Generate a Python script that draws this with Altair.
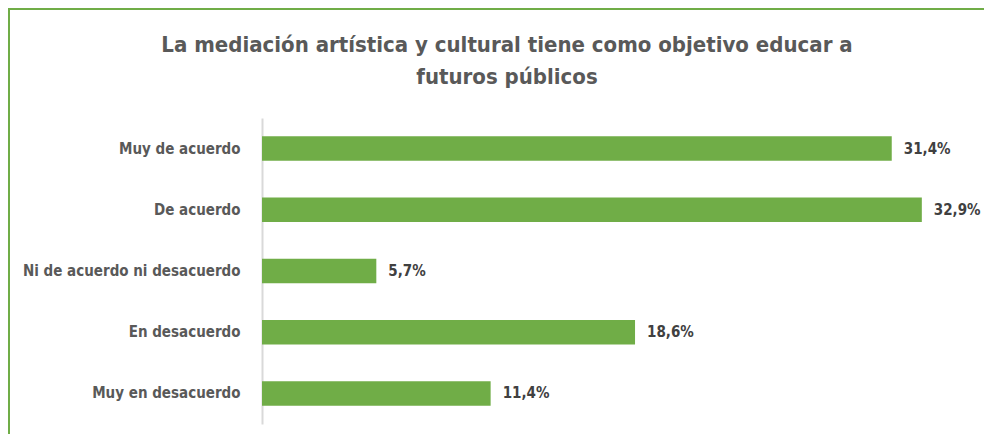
import altair as alt
import pandas as pd

categories = ["Muy de acuerdo", "De acuerdo", "Ni de acuerdo ni desacuerdo", "En desacuerdo", "Muy en desacuerdo"]
values = [31.4, 32.9, 5.7, 18.6, 11.4]
labels = [f"{v:.1f}".replace(".", ",") + "%" for v in values]
title_lines = ["La mediación artística y cultural tiene como objetivo educar a", "futuros públicos"]

df = pd.DataFrame({"cat": categories, "val": values, "lab": labels})
tdf = pd.DataFrame({"t": title_lines, "row": [0, 1]})

FONT = "Liberation Sans Narrow, DejaVu Sans Condensed, Arial Narrow, sans-serif"
W, H = 722, 306

y_enc = alt.Y("cat:N", sort=categories, title=None,
              scale=alt.Scale(paddingInner=0.6, paddingOuter=0.3),
              axis=alt.Axis(domain=True, domainColor="#D9D9D9", domainWidth=2,
                            ticks=False, labelPadding=22, labelFont=FONT,
                            labelFontSize=15, labelFontWeight="bold",
                            labelColor="#595959", labelLimit=300))
x_enc = alt.X("val:Q", title=None, scale=alt.Scale(domain=[0, 36]), axis=None)

bars = alt.Chart(df).mark_bar(color="#70AD47").encode(x=x_enc, y=y_enc)
text = alt.Chart(df).mark_text(align="left", dx=12, font=FONT, fontSize=15,
                               fontWeight="bold", color="#404040").encode(
    x=x_enc, y=alt.Y("cat:N", sort=categories), text="lab:N")

title1 = alt.Chart(tdf).transform_filter("datum.row == 0").mark_text(
    font=FONT, fontSize=22, fontWeight="bold", color="#595959", align="center",
    baseline="middle").encode(x=alt.value(245), y=alt.value(-73), text="t:N")
title2 = alt.Chart(tdf).transform_filter("datum.row == 1").mark_text(
    font=FONT, fontSize=22, fontWeight="bold", color="#595959", align="center",
    baseline="middle").encode(x=alt.value(245), y=alt.value(-41), text="t:N")

green_top = alt.Chart(df).mark_rule(color="#70AD47", strokeWidth=2).encode(
    x=alt.value(-254), x2=alt.value(W + 10), y=alt.value(-109))
green_left = alt.Chart(df).mark_rule(color="#70AD47", strokeWidth=2).encode(
    x=alt.value(-253), y=alt.value(-110), y2=alt.value(H + 20))

chart = alt.layer(green_top, green_left, title1, title2, bars, text).properties(
    width=W, height=H,
    autosize=alt.AutoSizeParams(type="none"),
    padding={"left": 254, "top": 110, "right": 0, "bottom": 10},
).configure_view(stroke=None)

chart.save("out.html", embed_options={"renderer": "svg", "actions": False})
